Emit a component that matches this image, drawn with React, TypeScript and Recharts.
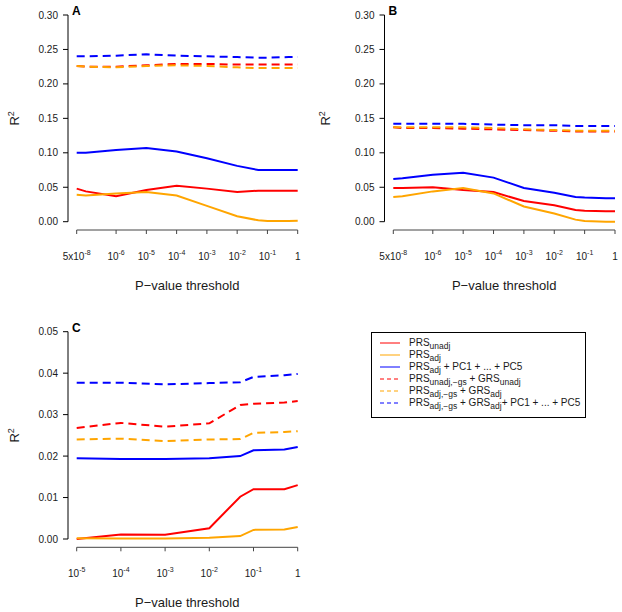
import React from 'react';
import { LineChart, Line, XAxis, YAxis, Legend } from 'recharts';

// ---------- data ----------
const THRESH_AB = [5e-8, 1e-7, 1e-6, 1e-5, 1e-4, 1e-3, 1e-2, 0.05, 0.1, 0.5, 1];
const THRESH_C = [1e-5, 1e-4, 1e-3, 1e-2, 0.05, 0.1, 0.5, 1];

const XTICKS_AB = [5e-8, 1e-6, 1e-5, 1e-4, 1e-3, 1e-2, 1e-1, 1];
const XTICKS_C = [1e-5, 1e-4, 1e-3, 1e-2, 1e-1, 1];
const YTICKS_AB = [0, 0.05, 0.1, 0.15, 0.2, 0.25, 0.3];
const YTICKS_C = [0, 0.01, 0.02, 0.03, 0.04, 0.05];

// Panel A
const A_unadj = [0.048, 0.044, 0.037, 0.046, 0.052, 0.048, 0.043, 0.045, 0.045, 0.045, 0.045];
const A_adj = [0.039, 0.038, 0.041, 0.043, 0.038, 0.023, 0.008, 0.002, 0.001, 0.001, 0.0015];
const A_adjPC = [0.1, 0.1, 0.104, 0.107, 0.102, 0.092, 0.081, 0.075, 0.075, 0.075, 0.075];
const A_unadjGRS = [0.226, 0.225, 0.225, 0.227, 0.229, 0.229, 0.228, 0.228, 0.228, 0.228, 0.228];
const A_adjGRS = [0.226, 0.225, 0.224, 0.226, 0.227, 0.226, 0.224, 0.223, 0.223, 0.223, 0.223];
const A_adjGRSPC = [0.24, 0.24, 0.241, 0.243, 0.241, 0.24, 0.239, 0.238, 0.238, 0.239, 0.239];

// Panel B
const B_unadj = [0.049, 0.049, 0.05, 0.046, 0.043, 0.03, 0.024, 0.017, 0.016, 0.015, 0.015];
const B_adj = [0.036, 0.037, 0.044, 0.049, 0.041, 0.022, 0.012, 0.003, 0.001, 0.0, 0.0];
const B_adjPC = [0.062, 0.063, 0.068, 0.071, 0.064, 0.049, 0.042, 0.036, 0.035, 0.034, 0.034];
const B_unadjGRS = [0.137, 0.136, 0.136, 0.135, 0.134, 0.133, 0.132, 0.131, 0.131, 0.131, 0.131];
const B_adjGRS = [0.137, 0.137, 0.137, 0.137, 0.136, 0.134, 0.133, 0.132, 0.132, 0.132, 0.132];
const B_adjGRSPC = [0.142, 0.142, 0.142, 0.142, 0.141, 0.14, 0.14, 0.139, 0.139, 0.139, 0.139];

// Panel C
const C_unadj = [0.0, 0.0011, 0.001, 0.0026, 0.0102, 0.012, 0.012, 0.013];
const C_adj = [0.0002, 0.0001, 0.0001, 0.0003, 0.0007, 0.0022, 0.0023, 0.0029];
const C_adjPC = [0.0195, 0.0193, 0.0193, 0.0195, 0.02, 0.0214, 0.0216, 0.0222];
const C_unadjGRS = [0.0268, 0.028, 0.0271, 0.0279, 0.0323, 0.0326, 0.0329, 0.0333];
const C_adjGRS = [0.024, 0.0242, 0.0236, 0.024, 0.0241, 0.0256, 0.0258, 0.026];
const C_adjGRSPC = [0.0377, 0.0377, 0.0373, 0.0376, 0.0378, 0.0391, 0.0395, 0.0398];

type Part = { t: string; sub?: boolean };
const SERIES: { key: string; color: string; dashed: boolean; label: Part[] }[] = [
  { key: 'unadj', color: '#FF0000', dashed: false, label: [{ t: 'PRS' }, { t: 'unadj', sub: true }] },
  { key: 'adj', color: '#FFA500', dashed: false, label: [{ t: 'PRS' }, { t: 'adj', sub: true }] },
  {
    key: 'adjPC', color: '#0000FF', dashed: false,
    label: [{ t: 'PRS' }, { t: 'adj', sub: true }, { t: ' + PC1 + ... + PC5' }],
  },
  {
    key: 'unadjGRS', color: '#FF0000', dashed: true,
    label: [{ t: 'PRS' }, { t: 'unadj,\u2212gs', sub: true }, { t: ' + GRS' }, { t: 'unadj', sub: true }],
  },
  {
    key: 'adjGRS', color: '#FFA500', dashed: true,
    label: [{ t: 'PRS' }, { t: 'adj,\u2212gs', sub: true }, { t: ' + GRS' }, { t: 'adj', sub: true }],
  },
  {
    key: 'adjGRSPC', color: '#0000FF', dashed: true,
    label: [
      { t: 'PRS' }, { t: 'adj,\u2212gs', sub: true }, { t: ' + GRS' }, { t: 'adj', sub: true },
      { t: '+ PC1 + ... + PC5' },
    ],
  },
];

function buildRows(thresh: number[], cols: Record<string, number[]>) {
  return thresh.map((p, i) => {
    const row: Record<string, number> = { p };
    Object.keys(cols).forEach((k) => {
      row[k] = cols[k][i];
    });
    return row;
  });
}

const DATA_A = buildRows(THRESH_AB, {
  unadj: A_unadj, adj: A_adj, adjPC: A_adjPC, unadjGRS: A_unadjGRS, adjGRS: A_adjGRS, adjGRSPC: A_adjGRSPC,
});
const DATA_B = buildRows(THRESH_AB, {
  unadj: B_unadj, adj: B_adj, adjPC: B_adjPC, unadjGRS: B_unadjGRS, adjGRS: B_adjGRS, adjGRSPC: B_adjGRSPC,
});
const DATA_C = buildRows(THRESH_C, {
  unadj: C_unadj, adj: C_adj, adjPC: C_adjPC, unadjGRS: C_unadjGRS, adjGRS: C_adjGRS, adjGRSPC: C_adjGRSPC,
});

// ---------- styling ----------
const FONT = '"Liberation Sans", Arial, Helvetica, sans-serif';
const TEXT = '#1a1a1a';

function tickParts(v: number): { base: string; exp?: string } {
  if (v === 1) return { base: '1' };
  const e = Math.floor(Math.log10(v) + 1e-9);
  const m = Math.round(v / Math.pow(10, e));
  return { base: m === 1 ? '10' : `${m}x10`, exp: `-${-e}` };
}

type Layout = {
  W: number;
  H: number;
  axisX: number; // y-axis line position
  padL: number; // gap between y-axis line and first data x
  right: number; // right margin
  top: number; // y of max value
  padB: number; // gap between y=0 and x-axis line
  xAxisH: number; // space below x-axis line
};

function Panel({
  data, xTicks, yTicks, layout, letter, yDigits,
}: {
  data: Record<string, number>[];
  xTicks: number[];
  yTicks: number[];
  layout: Layout;
  letter: string;
  yDigits: number;
}) {
  const { W, H, axisX, padL, right, top, padB, xAxisH } = layout;
  const axisY = H - xAxisH;
  const dataL = axisX + padL;
  const dataR = W - right;
  const dataW = dataR - dataL;
  const dataH = axisY - padB - top;
  const yMax = yTicks[yTicks.length - 1];

  const XTick = (props: any) => {
    const { x, y, payload } = props;
    const v = payload.value as number;
    const tp = tickParts(v);
    return (
      <g>
        {v === xTicks[0] && (
          <line x1={x} y1={y} x2={x + dataW} y2={y} stroke="#444" strokeWidth={1} />
        )}
        <line x1={x} y1={y} x2={x} y2={y + 4} stroke="#444" strokeWidth={1} />
        <text x={x} y={y + 30} textAnchor="middle" fontSize={10} fill={TEXT} fontFamily={FONT}>
          <tspan>{tp.base}</tspan>
          {tp.exp && (
            <tspan dy={-5} fontSize={7}>
              {tp.exp}
            </tspan>
          )}
        </text>
      </g>
    );
  };

  const YTick = (props: any) => {
    const { x, y, payload } = props;
    const v = payload.value as number;
    return (
      <g>
        {v === yMax && <line x1={x} y1={y} x2={x} y2={y + dataH} stroke="#000" strokeWidth={1} />}
        <line x1={x - 5} y1={y} x2={x} y2={y} stroke="#000" strokeWidth={1} />
        <text
          x={x - 10}
          y={y}
          dy="0.35em"
          textAnchor="end"
          fontSize={10}
          fill={TEXT}
          fontFamily={FONT}
        >
          {v.toFixed(yDigits)}
        </text>
      </g>
    );
  };

  const YLabel = () => (
    <g>
      <text
        transform={`translate(19, ${top + dataH / 2}) rotate(-90)`}
        textAnchor="middle"
        fontSize={13}
        fill={TEXT}
        fontFamily={FONT}
      >
        <tspan>R</tspan>
        <tspan dy={-5} fontSize={9}>
          2
        </tspan>
      </text>
      <text x={axisX + 4} y={top} fontSize={12} fontWeight="bold" fill="#000" fontFamily={FONT}>
        {letter}
      </text>
    </g>
  );

  const XLabel = () => (
    <text
      x={(dataL + dataR) / 2}
      y={axisY + 60}
      textAnchor="middle"
      fontSize={13}
      fill={TEXT}
      fontFamily={FONT}
    >
      P{'\u2212'}value threshold
    </text>
  );

  return (
    <LineChart
      width={W}
      height={H}
      data={data}
      margin={{ top, right, left: 0, bottom: 0 }}
      style={{ fontFamily: FONT }}
    >
      <XAxis
        type="number"
        dataKey="p"
        scale="log"
        domain={[xTicks[0], xTicks[xTicks.length - 1]]}
        ticks={xTicks}
        interval={0}
        axisLine={false}
        tickLine={false}
        tickSize={0}
        tickMargin={0}
        height={xAxisH}
        padding={{ left: padL, right: 0 }}
        tick={XTick}
        label={XLabel}
      />
      <YAxis
        type="number"
        domain={[0, yMax]}
        ticks={yTicks}
        interval={0}
        axisLine={false}
        tickLine={false}
        tickSize={0}
        tickMargin={0}
        width={axisX}
        padding={{ top: 0, bottom: padB }}
        tick={YTick}
        label={YLabel}
      />
      {SERIES.map((s) => (
        <Line
          key={s.key}
          dataKey={s.key}
          type="linear"
          stroke={s.color}
          strokeWidth={2}
          strokeDasharray={s.dashed ? '8 5' : undefined}
          dot={false}
          activeDot={false}
          isAnimationActive={false}
          legendType="line"
        />
      ))}
      {letter === 'C' && (
        <Legend
          layout="horizontal"
          verticalAlign="middle"
          align="center"
          wrapperStyle={{ left: 371, top: 25.7, width: 215, height: 86 }}
          content={() => <LegendBox />}
        />
      )}
    </LineChart>
  );
}

function LegendBox() {
  return (
    <div
      style={{
        position: 'relative',
        width: 215,
        height: 86,
        boxSizing: 'border-box',
        border: '1px solid #000',
        background: '#fff',
        fontFamily: FONT,
        fontSize: 10,
        color: TEXT,
      }}
    >
      {SERIES.map((s, i) => (
        <div
          key={s.key}
          style={{
            position: 'absolute',
            left: 0,
            top: 4.5 + i * 12,
            height: 12,
            width: 213,
            display: 'flex',
            alignItems: 'center',
            whiteSpace: 'nowrap',
            lineHeight: '12px',
          }}
        >
          <svg width={20} height={12} style={{ marginLeft: 8, marginRight: 9, flex: 'none' }}>
            <line
              x1={0}
              y1={6}
              x2={20}
              y2={6}
              stroke={s.color}
              strokeWidth={1}
              strokeDasharray={s.dashed ? '4 3' : undefined}
            />
          </svg>
          <span>
            {s.label.map((p, j) =>
              p.sub ? (
                <span key={j} style={{ fontSize: 8.5, position: 'relative', top: 3 }}>
                  {p.t}
                </span>
              ) : (
                <span key={j}>{p.t}</span>
              ),
            )}
          </span>
        </div>
      ))}
    </div>
  );
}

const LAYOUT_A: Layout = { W: 311, H: 306, axisX: 68, padL: 8.7, right: 13.3, top: 15, padB: 8.3, xAxisH: 76 };
const LAYOUT_B: Layout = { W: 311, H: 306, axisX: 73.5, padL: 8.8, right: 7, top: 15, padB: 8.3, xAxisH: 76 };
const LAYOUT_C: Layout = { W: 311, H: 306, axisX: 68, padL: 8.7, right: 13.3, top: 25.7, padB: 8.3, xAxisH: 64.7 };

export default function App() {
  return (
    <div
      style={{
        position: 'absolute',
        left: 0,
        top: 0,
        width: 622,
        height: 612,
        background: '#fff',
        fontFamily: FONT,
      }}
    >
      <div style={{ position: 'absolute', left: 0, top: 0 }}>
        <Panel data={DATA_A} xTicks={XTICKS_AB} yTicks={YTICKS_AB} layout={LAYOUT_A} letter="A" yDigits={2} />
      </div>
      <div style={{ position: 'absolute', left: 311, top: 0 }}>
        <Panel data={DATA_B} xTicks={XTICKS_AB} yTicks={YTICKS_AB} layout={LAYOUT_B} letter="B" yDigits={2} />
      </div>
      <div style={{ position: 'absolute', left: 0, top: 306 }}>
        <Panel data={DATA_C} xTicks={XTICKS_C} yTicks={YTICKS_C} layout={LAYOUT_C} letter="C" yDigits={2} />
      </div>
    </div>
  );
}
